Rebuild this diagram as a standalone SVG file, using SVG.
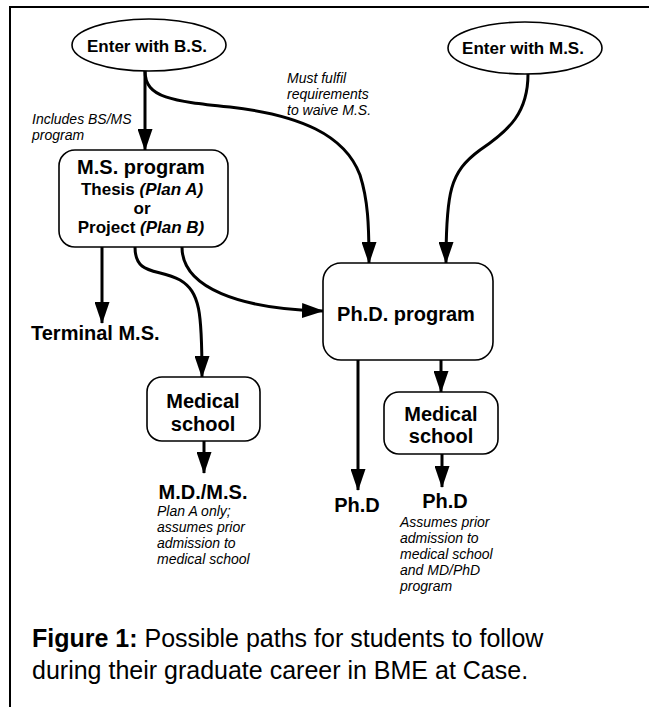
<svg xmlns="http://www.w3.org/2000/svg" width="649" height="707" viewBox="0 0 649 707">
<defs>
<style>
.frame{fill:none;stroke:#000;stroke-width:2}
.node{fill:#fff;stroke:#000;stroke-width:1.6}
.conn{fill:none;stroke:#000;stroke-width:3}
.b17{font-family:"Liberation Sans",Arial,sans-serif;font-weight:bold;font-size:17px;fill:#000}
.b20{font-family:"Liberation Sans",Arial,sans-serif;font-weight:bold;font-size:20px;fill:#000}
.it{font-family:"Liberation Sans",Arial,sans-serif;font-style:italic;font-size:14px;fill:#000}
.cap{font-family:"Liberation Sans",Arial,sans-serif;font-size:25px;fill:#000}
</style>
<marker id="arr" markerUnits="userSpaceOnUse" markerWidth="22" markerHeight="15" refX="21" refY="7.5" orient="auto">
<path d="M0,0 L22,7.5 L0,15 Z" fill="#000"/>
</marker>
</defs>
<rect width="649" height="707" fill="#fff"/>
<path class="frame" d="M10,707 L10,7 L649,7"/>

<g id="connectors">
<path class="conn" marker-end="url(#arr)" d="M145,71 L145,150"/>
<path class="conn" marker-end="url(#arr)" d="M145,71 C145,98 172,101 230,107 C300,115 345,135 360,175 C368,200 369,225 369,263"/>
<path class="conn" marker-end="url(#arr)" d="M528,74 C528,112 510,130 480,150 C450,172 446,192 446,263"/>
<path class="conn" marker-end="url(#arr)" d="M102,247 L102,323"/>
<path class="conn" marker-end="url(#arr)" d="M135,247 C135,276 158,268 180,280 C200,292 202,312 202,377"/>
<path class="conn" marker-end="url(#arr)" d="M182,247 C182,288 240,309 323,311"/>
<path class="conn" marker-end="url(#arr)" d="M204,441 L204,473"/>
<path class="conn" marker-end="url(#arr)" d="M358,360 L358,490"/>
<path class="conn" marker-end="url(#arr)" d="M441,360 L441,392"/>
<path class="conn" marker-end="url(#arr)" d="M442,454 L442,487"/>
</g>

<g id="enter-bs">
<ellipse class="node" cx="149" cy="45" rx="77" ry="26"/>
<text class="b17" x="147" y="52" text-anchor="middle">Enter with B.S.</text>
</g>
<g id="enter-ms">
<ellipse class="node" cx="525" cy="48" rx="77" ry="26"/>
<text class="b17" x="523" y="54" text-anchor="middle">Enter with M.S.</text>
</g>
<g id="label-bsms">
<text class="it" x="32" y="124">Includes BS/MS</text>
<text class="it" x="32" y="140">program</text>
</g>
<g id="label-waive">
<text class="it" x="287" y="83">Must fulfil</text>
<text class="it" x="287" y="99">requirements</text>
<text class="it" x="287" y="115">to waive M.S.</text>
</g>
<g id="ms-program">
<rect class="node" x="59" y="150" width="169" height="97" rx="16"/>
<text class="b20" x="141" y="174" text-anchor="middle">M.S. program</text>
<text class="b17" x="142" y="195" text-anchor="middle">Thesis <tspan font-style="italic">(Plan A)</tspan></text>
<text class="b17" x="142" y="214" text-anchor="middle">or</text>
<text class="b17" x="141" y="233" text-anchor="middle">Project <tspan font-style="italic">(Plan B)</tspan></text>
</g>
<g id="phd-program">
<rect class="node" x="323" y="263" width="170" height="97" rx="18"/>
<text class="b20" x="406" y="321" text-anchor="middle">Ph.D. program</text>
</g>
<g id="terminal-ms">
<text class="b20" x="31" y="340">Terminal M.S.</text>
</g>
<g id="medical-left">
<rect class="node" x="147" y="377" width="113" height="64" rx="15"/>
<text class="b20" x="203" y="408" text-anchor="middle">Medical</text>
<text class="b20" x="203" y="431" text-anchor="middle">school</text>
</g>
<g id="medical-right">
<rect class="node" x="384" y="392" width="114" height="62" rx="15"/>
<text class="b20" x="441" y="421" text-anchor="middle">Medical</text>
<text class="b20" x="441" y="443" text-anchor="middle">school</text>
</g>
<g id="mdms">
<text class="b20" x="203" y="499" text-anchor="middle">M.D./M.S.</text>
<text class="it" x="157" y="516">Plan A only;</text>
<text class="it" x="157" y="532">assumes prior</text>
<text class="it" x="157" y="548">admission to</text>
<text class="it" x="157" y="564">medical school</text>
</g>
<g id="phd-left">
<text class="b20" x="357" y="512" text-anchor="middle">Ph.D</text>
</g>
<g id="phd-right">
<text class="b20" x="445" y="508" text-anchor="middle">Ph.D</text>
<text class="it" x="400" y="527">Assumes prior</text>
<text class="it" x="400" y="543">admission to</text>
<text class="it" x="400" y="559">medical school</text>
<text class="it" x="400" y="575">and MD/PhD</text>
<text class="it" x="400" y="591">program</text>
</g>
<g id="caption">
<text class="cap" x="32" y="647"><tspan font-weight="bold">Figure 1:</tspan> Possible paths for students to follow</text>
<text class="cap" x="32" y="679">during their graduate career in BME at Case.</text>
</g>
</svg>
